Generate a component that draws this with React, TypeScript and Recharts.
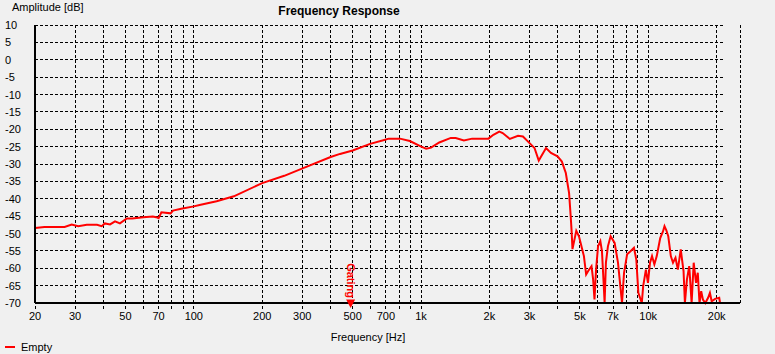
import { LineChart, Line, XAxis, YAxis, CartesianGrid, ReferenceLine, ReferenceDot } from 'recharts'

const FREQ = [
  20, 22, 27, 29, 31, 33.8, 37.5, 39.3, 40.6, 42.8, 45, 47.3, 50.7, 53.6, 60, 66, 68.3, 70, 72, 79, 81, 88,
  100, 106, 126, 150, 200, 250, 303, 400, 440, 500, 597, 695, 720, 808, 893, 1002, 1053, 1107, 1203, 1352,
  1421, 1544, 1678, 1980, 2082, 2211, 2287, 2459, 2672, 2809, 3004, 3158, 3297, 3549, 3732, 3988, 4167,
  4337, 4482, 4558, 4600, 4640, 4822, 4955, 5040, 5210, 5330, 5440, 5628, 5720, 5800, 5893, 6012, 6155,
  6256, 6362, 6426, 6512, 6645, 6830, 7113, 7359, 7538, 7665, 7825, 8071, 8357, 8651, 8860, 9046, 9368,
  9496, 9765, 9971, 10180, 10390, 10640, 10900, 11290, 11610, 11790, 12000, 12250, 12570, 12850, 13180,
  13500, 13900, 14300, 14500, 14800, 15150, 15520, 15850, 16230, 16520, 16810, 17100, 17400, 17830, 18340,
  18680, 19020, 19690, 20530, 20700,
]
const AMP = [
  -48.4, -48.1, -48.1, -47.4, -47.9, -47.5, -47.5, -47.9, -47.1, -47.4, -46.5, -47.1, -45.7, -45.7, -45.3,
  -45.1, -45.3, -45.6, -43.9, -44.2, -43.4, -42.9, -42.2, -41.8, -40.7, -39.3, -35.5, -33.4, -31.2, -28.0,
  -27.1, -26.1, -24.2, -23.0, -22.7, -22.7, -23.4, -25.0, -25.6, -25.3, -23.8, -22.5, -22.5, -23.2, -22.7,
  -22.7, -21.6, -20.7, -21.1, -22.8, -21.9, -22.1, -24.0, -25.4, -29.0, -25.4, -26.8, -27.8, -29.3, -32.6,
  -38.3, -45.1, -49.4, -54.5, -49.2, -50.8, -52.7, -56.5, -61.8, -60.8, -59.4, -63.2, -69.0, -60.4, -53.7,
  -52.2, -55.1, -64.2, -70, -58.4, -53.7, -50.8, -52.7, -58.4, -65.2, -70, -61.3, -56.0, -55.1, -54.1,
  -57.5, -67.1, -70, -65.2, -60.4, -64.2, -58.4, -56.5, -58.9, -56.5, -51.3, -49.4, -47.9, -49.0, -50.8,
  -56.5, -58.4, -57.0, -60.4, -54.6, -60.8, -70, -63.2, -59.4, -70, -58.4, -64.2, -61.3, -70, -66.6, -69.0,
  -70, -68.5, -67.1, -69.5, -68.8, -68.5, -70,
]

const FREQ_GRID = [
  20, 30, 40, 50, 60, 70, 80, 90, 100, 200, 300, 400, 500, 600, 700, 800, 900,
  1000, 2000, 3000, 4000, 5000, 6000, 7000, 8000, 9000, 10000, 20000,
]
const FREQ_LABELS: Record<number, string> = {
  20: '20', 30: '30', 50: '50', 70: '70', 100: '100', 200: '200', 300: '300', 500: '500', 700: '700',
  1000: '1k', 2000: '2k', 3000: '3k', 5000: '5k', 7000: '7k', 10000: '10k', 20000: '20k',
}
const DB_TICKS = [-70, -65, -60, -55, -50, -45, -40, -35, -30, -25, -20, -15, -10, -5, 0, 5, 10]
const GATING_FREQ = 490

const FONT = '"Liberation Sans", Arial, sans-serif'
const data = FREQ.map((f, i) => ({ f, db: AMP[i] }))

function FreqTick({ x, y, payload }: any) {
  const label = FREQ_LABELS[payload.value]
  if (!label) return null
  return (
    <text x={x} y={y} dy={9} textAnchor="middle" fontSize={11} fontFamily={FONT} fill="#000">
      {label}
    </text>
  )
}

function DbTick({ y, payload }: any) {
  return (
    <text x={5} y={y} dy={4} textAnchor="start" fontSize={11} fontFamily={FONT} fill="#000">
      {payload.value}
    </text>
  )
}

function GatingMark({ cx, cy }: any) {
  return (
    <g>
      <polygon points={`${cx - 4.5},${cy - 3.5} ${cx + 4.5},${cy - 3.5} ${cx},${cy + 5}`} fill="#f00" />
      <text
        x={cx - 4}
        y={cy - 5}
        transform={`rotate(90 ${cx - 4} ${cy - 5})`}
        textAnchor="end"
        fontSize={11}
        fontWeight="bold"
        fontFamily={FONT}
        fill="#f00"
      >
        Gating
      </text>
    </g>
  )
}

export default function App() {
  return (
    <div style={{ position: 'fixed', left: 0, top: 0, width: 775, height: 354, background: '#f0f0f0', fontFamily: FONT }}>
      <div style={{ position: 'absolute', left: 12, top: 0, fontSize: 11, lineHeight: '14px' }}>Amplitude [dB]</div>
      <div style={{ position: 'absolute', left: 239, width: 200, top: 4, textAlign: 'center', fontSize: 12, fontWeight: 'bold', lineHeight: '15px' }}>
        Frequency Response
      </div>
      <div style={{ position: 'absolute', left: 268, width: 200, top: 330, textAlign: 'center', fontSize: 11, lineHeight: '14px' }}>
        Frequency [Hz]
      </div>
      <div style={{ position: 'absolute', left: 5, top: 340, fontSize: 11, lineHeight: '14px', display: 'flex', alignItems: 'center' }}>
        <span style={{ display: 'inline-block', width: 10, height: 2, background: '#f00', marginRight: 6 }} />
        Empty
      </div>
      <div style={{ position: 'absolute', left: 0, top: 0 }}>
        <LineChart width={775} height={354} data={data} margin={{ top: 25, right: 35, bottom: 21, left: 0 }}>
          <CartesianGrid horizontal={false} stroke="#000" strokeDasharray="3 2" shapeRendering="crispEdges" />
          {DB_TICKS.map((v) => (
            <ReferenceLine
              key={v}
              segment={[{ x: 20, y: v }, { x: 21780, y: v }]}
              stroke="#000"
              strokeDasharray="3 2"
              shapeRendering="crispEdges"
            />
          ))}
          <XAxis
            dataKey="f"
            type="number"
            scale="log"
            domain={[20, 25340]}
            allowDataOverflow
            ticks={FREQ_GRID}
            interval={0}
            height={30}
            tick={<FreqTick />}
            tickSize={6}
            tickLine={{ stroke: '#000', strokeDasharray: '3 2', shapeRendering: 'crispEdges' }}
            axisLine={{ stroke: '#000', strokeWidth: 2, shapeRendering: 'crispEdges' }}
          />
          <YAxis
            type="number"
            domain={[-70, 10]}
            ticks={DB_TICKS}
            interval={0}
            width={35}
            tick={<DbTick />}
            tickLine={false}
            axisLine={{ stroke: '#000', strokeWidth: 2, shapeRendering: 'crispEdges' }}
          />
          <Line
            type="linear"
            dataKey="db"
            stroke="#f00"
            strokeWidth={2}
            dot={false}
            activeDot={false}
            isAnimationActive={false}
          />
          <ReferenceDot x={GATING_FREQ} y={-70} ifOverflow="visible" shape={<GatingMark />} />
        </LineChart>
      </div>
    </div>
  )
}
